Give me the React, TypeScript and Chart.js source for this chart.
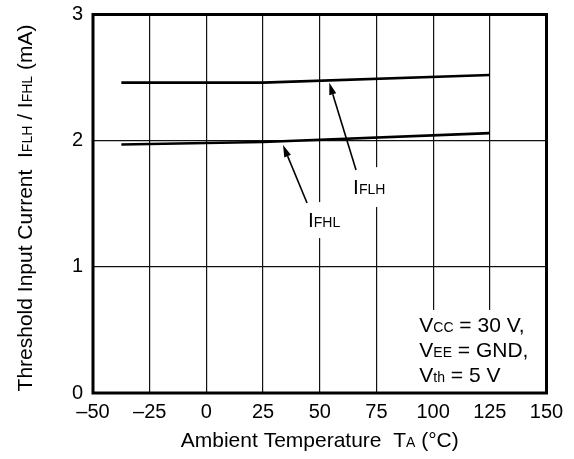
import React, { useEffect, useRef } from "react";
import { Chart, registerables } from "chart.js";

Chart.register(...registerables);

// ---- Data ----
const temps = [-37.5, 25, 125];
const iflhValues = [2.46, 2.46, 2.52];
const ifhlValues = [1.97, 1.99, 2.06];

const xTickValues = [-50, -25, 0, 25, 50, 75, 100, 125, 150];
const xTickLabels = ["\u201350", "\u201325", "0", "25", "50", "75", "100", "125", "150"];
const yTickValues = [0, 1, 2, 3];
const yTickLabels = ["0", "1", "2", "3"];

type Seg = { t: string; sub?: boolean };

const yTitle: Seg[] = [
  { t: "Threshold Input Current  I" },
  { t: "FLH", sub: true },
  { t: " / I" },
  { t: "FHL", sub: true },
  { t: " (mA)" },
];
const xTitle: Seg[] = [
  { t: "Ambient Temperature  T" },
  { t: "A", sub: true },
  { t: " (\u00B0C)" },
];

const conditionLines: Seg[][] = [
  [{ t: "V" }, { t: "CC", sub: true }, { t: " = 30 V," }],
  [{ t: "V" }, { t: "EE", sub: true }, { t: " = GND," }],
  [{ t: "V" }, { t: "th", sub: true }, { t: " = 5 V" }],
];
// annotation anchor positions in data units (temperature, mA)
const conditionX = 93.9;
const conditionBaselines = [0.486, 0.288, 0.089];
const conditionBox = [89.8, 150, 0, 0.658];

const labelIFLH: Seg[] = [{ t: "I" }, { t: "FLH", sub: true }];
const labelIFLHPos = [64.7, 1.577];
const boxIFLH = [63.3, 78.8, 1.474, 1.79];
const arrowIFLH = [66.0, 1.767, 54.2, 2.459];

const labelIFHL: Seg[] = [{ t: "I" }, { t: "FHL", sub: true }];
const labelIFHLPos = [44.8, 1.317];
const boxIFHL = [43.5, 58.9, 1.228, 1.513];
const arrowIFHL = [44.4, 1.506, 33.8, 1.965];

const FONT = '"Liberation Sans", Arial, sans-serif';
const MAIN = 21;
const SUB = 14;

function segFont(s: Seg) {
  return `${s.sub ? SUB : MAIN}px ${FONT}`;
}

function drawRich(ctx: CanvasRenderingContext2D, segs: Seg[], x: number, y: number, align: "left" | "center") {
  ctx.textAlign = "left";
  ctx.textBaseline = "alphabetic";
  ctx.fillStyle = "#000";
  const widths = segs.map((s) => {
    ctx.font = segFont(s);
    return ctx.measureText(s.t).width;
  });
  const total = widths.reduce((a, b) => a + b, 0);
  let cx = align === "center" ? x - total / 2 : x;
  segs.forEach((s, i) => {
    ctx.font = segFont(s);
    ctx.fillText(s.t, cx, y);
    cx += widths[i];
  });
}

function drawArrow(ctx: CanvasRenderingContext2D, x1: number, y1: number, x2: number, y2: number) {
  const ang = Math.atan2(y2 - y1, x2 - x1);
  const len = 12;
  const hw = 3.6;
  const bx = x2 - len * Math.cos(ang);
  const by = y2 - len * Math.sin(ang);
  ctx.strokeStyle = "#000";
  ctx.lineWidth = 1.6;
  ctx.beginPath();
  ctx.moveTo(x1, y1);
  ctx.lineTo(bx, by);
  ctx.stroke();
  ctx.fillStyle = "#000";
  ctx.beginPath();
  ctx.moveTo(x2, y2);
  ctx.lineTo(bx + hw * Math.sin(ang), by - hw * Math.cos(ang));
  ctx.lineTo(bx - hw * Math.sin(ang), by + hw * Math.cos(ang));
  ctx.closePath();
  ctx.fill();
}

const annotPlugin = {
  id: "annot",
  beforeDatasetsDraw(chart: any) {
    const ctx: CanvasRenderingContext2D = chart.ctx;
    const xs = chart.scales.x;
    const ys = chart.scales.y;
    const px = (v: number) => xs.getPixelForValue(v);
    const py = (v: number) => ys.getPixelForValue(v);
    ctx.save();
    ctx.fillStyle = "#fff";
    for (const b of [conditionBox, boxIFLH, boxIFHL]) {
      const x0 = px(b[0]);
      const x1 = px(b[1]);
      const y0 = py(b[3]);
      const y1 = py(b[2]);
      ctx.fillRect(x0, y0, x1 - x0, y1 - y0);
    }
    conditionLines.forEach((line, i) => {
      drawRich(ctx, line, px(conditionX), py(conditionBaselines[i]), "left");
    });
    drawRich(ctx, labelIFLH, px(labelIFLHPos[0]), py(labelIFLHPos[1]), "left");
    drawRich(ctx, labelIFHL, px(labelIFHLPos[0]), py(labelIFHLPos[1]), "left");
    ctx.restore();
  },
  afterDatasetsDraw(chart: any) {
    const ctx: CanvasRenderingContext2D = chart.ctx;
    const xs = chart.scales.x;
    const ys = chart.scales.y;
    const px = (v: number) => xs.getPixelForValue(v);
    const py = (v: number) => ys.getPixelForValue(v);
    const area = chart.chartArea;
    ctx.save();
    drawArrow(ctx, px(arrowIFLH[0]), py(arrowIFLH[1]), px(arrowIFLH[2]), py(arrowIFLH[3]));
    drawArrow(ctx, px(arrowIFHL[0]), py(arrowIFHL[1]), px(arrowIFHL[2]), py(arrowIFHL[3]));
    // frame
    ctx.strokeStyle = "#000";
    ctx.lineWidth = 3;
    ctx.strokeRect(area.left, area.top, area.right - area.left, area.bottom - area.top);
    // axis titles
    drawRich(ctx, xTitle, (area.left + area.right) / 2, 446.5, "center");
    ctx.translate(32, 208);
    ctx.rotate(-Math.PI / 2);
    drawRich(ctx, yTitle, 0, 0, "center");
    ctx.restore();
  },
};

export default function App() {
  const ref = useRef<HTMLCanvasElement | null>(null);
  useEffect(() => {
    if (!ref.current) return;
    const chart = new Chart(ref.current, {
      type: "line",
      data: {
        datasets: [
          {
            label: "IFLH",
            data: temps.map((t, i) => ({ x: t, y: iflhValues[i] })),
            borderColor: "#000",
            borderWidth: 2.6,
            pointRadius: 0,
            tension: 0,
          },
          {
            label: "IFHL",
            data: temps.map((t, i) => ({ x: t, y: ifhlValues[i] })),
            borderColor: "#000",
            borderWidth: 2.6,
            pointRadius: 0,
            tension: 0,
          },
        ],
      },
      options: {
        animation: false,
        responsive: false,
        devicePixelRatio: 1,
        layout: { padding: { top: 14.5, right: 27.5, left: 0, bottom: 0 } },
        plugins: { legend: { display: false }, tooltip: { enabled: false }, title: { display: false } },
        scales: {
          x: {
            type: "linear",
            min: -50,
            max: 150,
            afterBuildTicks: (s: any) => {
              s.ticks = xTickValues.map((v) => ({ value: v }));
            },
            afterFit: (s: any) => {
              s.height = 66;
              s.paddingLeft = 0;
              s.paddingRight = 0;
            },
            ticks: {
              color: "#000",
              font: { family: FONT, size: 20 },
              padding: 7,
              maxRotation: 0,
              autoSkip: false,
              callback: (v: any) => xTickLabels[xTickValues.indexOf(Number(v))],
            },
            grid: { color: "#111", lineWidth: 1.2, drawTicks: false },
            border: { display: false },
          },
          y: {
            type: "linear",
            min: 0,
            max: 3,
            afterBuildTicks: (s: any) => {
              s.ticks = yTickValues.map((v) => ({ value: v }));
            },
            afterFit: (s: any) => {
              s.width = 93;
              s.paddingTop = 0;
              s.paddingBottom = 0;
            },
            ticks: {
              color: "#000",
              font: { family: FONT, size: 20 },
              padding: 10,
              autoSkip: false,
              callback: (v: any) => yTickLabels[yTickValues.indexOf(Number(v))],
            },
            grid: { color: "#111", lineWidth: 1.2, drawTicks: false },
            border: { display: false },
          },
        },
      },
      plugins: [annotPlugin],
    });
    return () => chart.destroy();
  }, []);
  return (
    <div style={{ position: "absolute", left: 0, top: 0, width: 574, height: 459, background: "#fff" }}>
      <canvas ref={ref} width={574} height={459} style={{ width: 574, height: 459, display: "block" }} />
    </div>
  );
}
